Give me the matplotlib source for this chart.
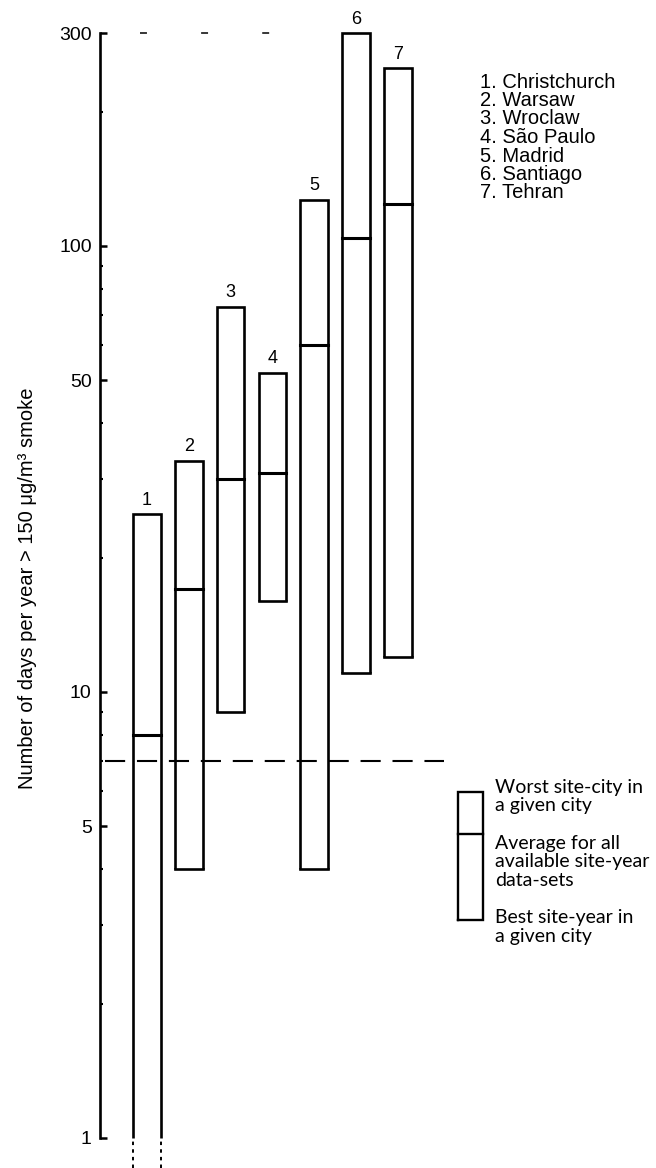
import matplotlib.pyplot as plt
from matplotlib.ticker import FixedLocator, NullFormatter

# Days per year above 150 ug/m3 smoke, per city: worst site, average, best site-year
cities = ["Christchurch", "Warsaw", "Wroclaw", "São Paulo", "Madrid", "Santiago", "Tehran"]
worst = [25, 33, 73, 52, 127, 300, 250]
average = [8, 17, 30, 31, 60, 104, 124]
best = [0, 4, 9, 16, 4, 11, 12]   # 0 = below the bottom of the scale
guideline = 7

y_ticks = [1, 5, 10, 50, 100, 300]
y_minor = [2, 3, 4, 6, 7, 8, 9, 20, 30, 40, 60, 70, 80, 90, 200]

# Layout (figure is drawn at 100 dpi)
W, H = 656, 1168
AXIS_MIN, AXIS_MAX = 1, 300
BOX_W = 0.66
LW = 1.9
TXT = "Liberation Sans"
KEY_FONT = "Lato"

plt.rcParams["lines.scale_dashes"] = False

fig = plt.figure(figsize=(W / 100, H / 100), dpi=100)
ax = fig.add_axes([100 / W, 0, 1 - 100 / W, 1])
ax.set_yscale("log")
ax.set_ylim(0.856, 356)
ax.set_xlim(-0.124, 13.18)

# One open box per city, average marked with a bar across it
for i, (hi, mid, lo) in enumerate(zip(worst, average, best)):
    x = i + 1
    left, right = x - BOX_W / 2, x + BOX_W / 2
    floor = lo if lo >= AXIS_MIN else AXIS_MIN
    ax.plot([left, left, right, right], [floor, hi, hi, floor],
            color="black", lw=LW, solid_joinstyle="miter", solid_capstyle="butt")
    if lo >= AXIS_MIN:
        ax.plot([left, right], [lo, lo], color="black", lw=LW, solid_capstyle="projecting")
    else:
        # best value falls off the scale: continue the sides dotted
        for sx in (left, right):
            ax.plot([sx, sx], [ax.get_ylim()[0], AXIS_MIN], color="black",
                    lw=1.4, linestyle=(0, (2.5, 3)))
    ax.plot([left, right], [mid, mid], color="black", lw=2.2, solid_capstyle="projecting")
    ax.annotate(str(i + 1), (x, hi), xytext=(0, 4), textcoords="offset points",
                ha="center", va="bottom", fontsize=13, family=TXT)

# guideline level
ax.plot([0, 8.1], [guideline, guideline], color="black", lw=1.5,
        linestyle=(0, (14.5, 8.5)))
ax.plot([0.83, 3.95], [AXIS_MAX, AXIS_MAX], color="black", lw=1.1,
        linestyle=(0, (5, 39)))

# y axis
for side in ("top", "right", "bottom"):
    ax.spines[side].set_visible(False)
ax.spines["left"].set_bounds(AXIS_MIN, AXIS_MAX)
ax.spines["left"].set_linewidth(1.9)
ax.set_xticks([])
ax.yaxis.set_major_locator(FixedLocator(y_ticks))
ax.yaxis.set_minor_locator(FixedLocator(y_minor))
ax.yaxis.set_minor_formatter(NullFormatter())
ax.set_yticklabels([str(t) for t in y_ticks], family=TXT, fontsize=14)
ax.tick_params(axis="y", which="major", direction="in", length=5, width=1.8, pad=6)
ax.tick_params(axis="y", which="minor", direction="in", length=2.5, width=1.5)

fig.text(28 / W, 1 - 588 / H, "Number of days per year > 150 μg/m³ smoke",
         rotation=90, ha="center", va="center", fontsize=14.5, family=TXT)

# city list
for i, name in enumerate(cities):
    fig.text(480 / W, 1 - (82 + 18.5 * i) / H, f"{i + 1}. {name}",
             ha="left", va="center", fontsize=14.5, family=TXT)

# key box explaining the marks
kx0, kx1 = 8.45, 9.05
k_top, k_mid, k_bot = 5.97, 4.8, 3.08
ax.plot([kx0, kx0, kx1, kx1, kx0], [k_bot, k_top, k_top, k_bot, k_bot],
        color="black", lw=1.7, solid_joinstyle="miter")
ax.plot([kx0, kx1], [k_mid, k_mid], color="black", lw=1.7)

key_text = [
    (787, ["Worst site-city in", "a given city"]),
    (843, ["Average for all", "available site-year", "data-sets"]),
    (918, ["Best site-year in", "a given city"]),
]
for y0, lines in key_text:
    for j, line in enumerate(lines):
        fig.text(495 / W, 1 - (y0 + 18.5 * j) / H, line,
                 ha="left", va="center", fontsize=14, family=KEY_FONT)

fig.savefig("out.png", dpi=100, facecolor="white")
